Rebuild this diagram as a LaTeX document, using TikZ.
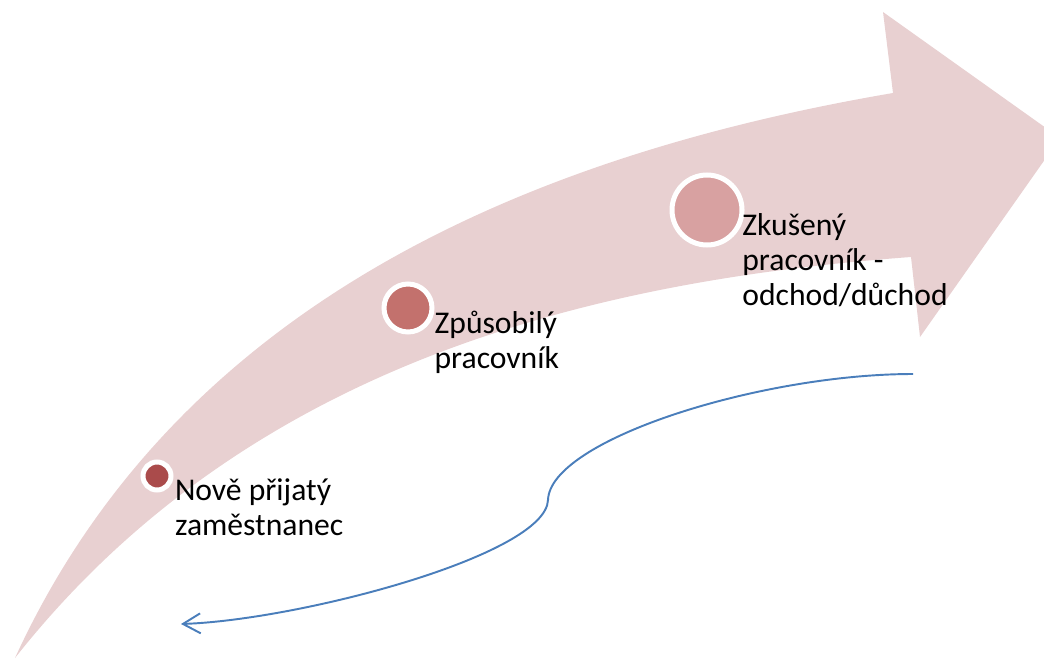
\documentclass[tikz,border=0pt]{standalone}
\usepackage{fontspec}
\setmainfont{Carlito}
\usepackage{tikz}
\usetikzlibrary{positioning, arrows.meta, calc}
\definecolor{bandpink}{HTML}{E8D0D1}
\definecolor{stageone}{HTML}{AA4B4B}
\definecolor{stagetwo}{HTML}{C3716D}
\definecolor{stagethree}{HTML}{D8A1A1}
\definecolor{backblue}{HTML}{4A7EBB}
\tikzset{
    stage/.style={circle, draw=white, line width=0.1cm, inner sep=0pt},
    stagetext/.style={align=left, inner sep=0pt, font=\fontsize{18}{20}\selectfont},
    backline/.style={draw=backblue, line width=1.1pt, -{Straight Barb[length=3.5mm, width=4mm]}},
}

\begin{document}
\begin{tikzpicture}
    \useasboundingbox (0,0) rectangle (20.88,13.18);
    \clip (0,0) rectangle (20.88,13.18);

    % curved band with its head
    \coordinate (tail) at (0.30,0.02);
    \fill[bandpink] (tail) .. controls (3.40,6.78) and (10.00,9.98) .. (17.86,11.32)
        -- (17.66,12.94) -- (21.20,10.42) -- (18.40,6.44) -- (18.22,8.04)
        .. controls (12.00,7.58) and (5.00,5.98) .. (tail) -- cycle;

    \node[stage, fill=stageone, minimum size=0.56cm] (s1) at (3.14,3.66) {};
    \node[stage, fill=stagetwo, minimum size=0.96cm] (s2) at (8.16,7.02) {};
    \node[stage, fill=stagethree, minimum size=1.40cm] (s3) at (14.14,8.98) {};

    \node[stagetext, below right=-0.18cm and 0.12cm of s1] (t1) {Nově přijatý\\zaměstnanec};
    \node[stagetext, below right=-0.33cm and 0.15cm of s2] (t2) {Způsobilý\\pracovník};
    \node[stagetext, below right=-0.47cm and 0.17cm of s3] (t3) {Zkušený\\pracovník -\\odchod/důchod};

    % way back
    \coordinate (bstart) at (18.26,5.70);
    \coordinate (bturn) at (10.96,3.18);
    \coordinate (bend) at (3.62,0.70);
    \draw[backline] (bstart) .. controls (15.20,5.70) and (11.00,4.38) .. (bturn)
        .. controls (10.92,2.08) and (6.00,0.78) .. (bend);
\end{tikzpicture}
\end{document}
